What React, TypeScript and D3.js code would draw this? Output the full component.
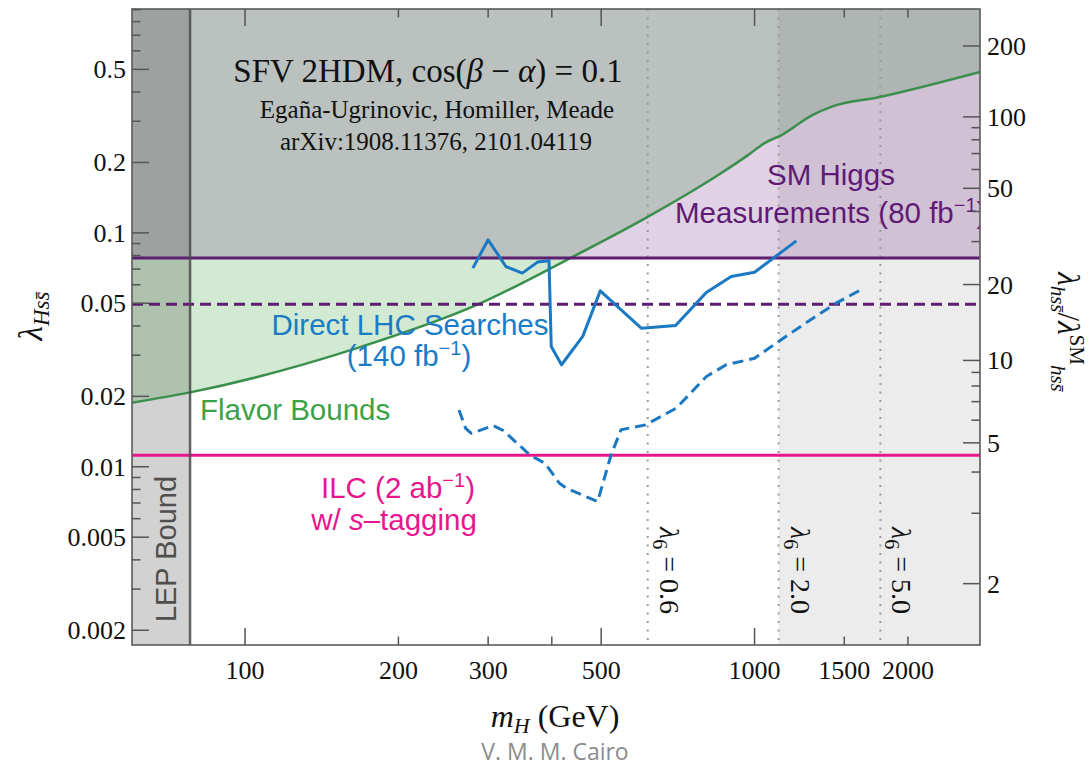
import React, { useEffect, useRef } from 'react';
import * as d3 from 'd3';

// axis ticks
const massLabels = [100, 200, 300, 500, 1000, 1500, 2000];
const massMajor = [100, 500, 1000];
const massMinor = [200, 300, 400, 1500, 2000];
const lambdaLabels = [0.002, 0.005, 0.01, 0.02, 0.05, 0.1, 0.2, 0.5];
const lambdaMinor = [0.003, 0.004, 0.006, 0.007, 0.008, 0.009, 0.03, 0.04, 0.06, 0.07, 0.08, 0.09, 0.3, 0.4, 0.6, 0.7, 0.8, 0.9];
const ratioLabels = [2, 5, 10, 20, 50, 100, 200];
const ratioMinor = [3, 4, 6, 7, 8, 9, 30, 40, 60, 70, 80, 90];

// flavor bound (green)
const flavorMass = [60, 78, 167, 288, 436, 617, 853, 971, 1046, 1130, 1298, 1410, 1760, 2770];
const flavorLambda = [0.0188, 0.0208, 0.0323, 0.0497, 0.0782, 0.117, 0.178, 0.215, 0.242, 0.262, 0.319, 0.345, 0.381, 0.488];

// direct LHC searches, 140 fb-1 (solid blue)
const lhcMass = [280, 300, 325, 350, 375, 395, 399, 418, 460, 498, 600, 700, 804, 900, 1000, 1208];
const lhcLambda = [0.0707, 0.0934, 0.0718, 0.0673, 0.075, 0.076, 0.0327, 0.0273, 0.0361, 0.0565, 0.0391, 0.0402, 0.0556, 0.0651, 0.0679, 0.0924];

// projection (dashed blue)
const projMass = [263, 271, 278, 286, 307, 321, 363, 388, 414, 427, 492, 523, 547, 611, 702, 804, 880, 1000, 1105, 1302, 1449, 1616];
const projLambda = [0.0175, 0.0146, 0.0139, 0.0142, 0.015, 0.0143, 0.0112, 0.01035, 0.0085, 0.0081, 0.0071, 0.01125, 0.0144, 0.0151, 0.0178, 0.0243, 0.0273, 0.0291, 0.0339, 0.0432, 0.0502, 0.0571];

const lepMass = 78;
const higgsLambda = 0.078;
const higgsDashLambda = 0.0495;
const ilcLambda = 0.0112;
const lambda6Labels = ['0.6', '2.0', '5.0'];
const lambda6Mass = [617, 1115, 1766];
const ratioSlope = 316; // lambda_hss/lambda_SM = 1 + 316 * lambda_Hss

const serif = '"Liberation Serif", "Times New Roman", serif';
const sans = '"Liberation Sans", Arial, sans-serif';

type Part = { t: string; shift?: number; size?: number; italic?: boolean };

function rich(sel: any, parts: Part[]) {
  let cur = 0;
  parts.forEach(p => {
    const s = p.shift || 0;
    const ts = sel.append('tspan').attr('dy', s - cur).text(p.t);
    if (p.size) ts.attr('font-size', p.size);
    if (p.italic) ts.attr('font-style', 'italic');
    cur = s;
  });
  return sel;
}

export default function App() {
  const ref = useRef<SVGSVGElement>(null);

  useEffect(() => {
    const svg = d3.select(ref.current);
    svg.selectAll('*').remove();

    const left = 132, right = 980, top = 9, bottom = 645;
    const x = d3.scaleLog().domain([60, 2770]).range([left, right]);
    const y = d3.scaleLog().domain([0.00173, 0.906]).range([bottom, top]);
    const yr = (r: number) => y((r - 1) / ratioSlope);

    svg.append('defs').append('clipPath').attr('id', 'plotClip')
      .append('rect').attr('x', left).attr('y', top).attr('width', right - left).attr('height', bottom - top);

    const plot = svg.append('g').attr('clip-path', 'url(#plotClip)');
    plot.append('rect').attr('x', left).attr('y', top).attr('width', right - left).attr('height', bottom - top).attr('fill', '#fff');

    // shaded bands
    plot.append('rect')
      .attr('x', x(lambda6Mass[1])).attr('y', top)
      .attr('width', right - x(lambda6Mass[1])).attr('height', bottom - top)
      .attr('fill', '#5f5f5f').attr('fill-opacity', 0.12);

    const flavor = flavorMass.map((m, i) => ({ m, l: flavorLambda[i] }));
    const area = d3.area<{ m: number; l: number }>()
      .x(d => x(d.m)).y0(top).y1(d => y(d.l)).curve(d3.curveMonotoneX);
    plot.append('path').datum(flavor).attr('d', area)
      .attr('fill', 'rgb(44,160,44)').attr('fill-opacity', 0.22);

    plot.append('rect')
      .attr('x', left).attr('y', top).attr('width', right - left).attr('height', y(higgsLambda) - top)
      .attr('fill', 'rgb(100,30,120)').attr('fill-opacity', 0.2);

    plot.append('rect')
      .attr('x', left).attr('y', top).attr('width', x(lepMass) - left).attr('height', bottom - top)
      .attr('fill', '#3e3e3e').attr('fill-opacity', 0.23);

    // lambda_6 dotted lines
    lambda6Mass.forEach((m, i) => {
      plot.append('line')
        .attr('x1', x(m)).attr('x2', x(m)).attr('y1', top).attr('y2', bottom)
        .attr('stroke', '#9a9a9a').attr('stroke-width', 2).attr('stroke-dasharray', '2 6.5');
      const t = plot.append('text')
        .attr('transform', `translate(${x(m) + 12},527) rotate(90)`)
        .attr('font-family', serif).attr('font-size', 28).attr('fill', '#111');
      rich(t, [
        { t: 'λ', italic: true },
        { t: '6', shift: 7, size: 20 },
        { t: ' = ' + lambda6Labels[i] },
      ]);
    });

    // curves
    const line = d3.line<{ m: number; l: number }>().x(d => x(d.m)).y(d => y(d.l));
    plot.append('path').datum(flavor)
      .attr('d', line.curve(d3.curveMonotoneX))
      .attr('fill', 'none').attr('stroke', '#3b8f4c').attr('stroke-width', 2.5);
    line.curve(d3.curveLinear);

    const hline = (v: number, color: string, dash?: string) => {
      const l = plot.append('line')
        .attr('x1', left).attr('x2', right).attr('y1', y(v)).attr('y2', y(v))
        .attr('stroke', color).attr('stroke-width', 3);
      if (dash) l.attr('stroke-dasharray', dash);
    };
    hline(higgsLambda, '#5d1d70');
    hline(higgsDashLambda, '#5d1d70', '11 6');
    hline(ilcLambda, '#e8158b');

    plot.append('path').datum(lhcMass.map((m, i) => ({ m, l: lhcLambda[i] })))
      .attr('d', line).attr('fill', 'none').attr('stroke', '#1a79c2').attr('stroke-width', 3)
      .attr('stroke-linejoin', 'round');
    plot.append('path').datum(projMass.map((m, i) => ({ m, l: projLambda[i] })))
      .attr('d', line).attr('fill', 'none').attr('stroke', '#1a79c2').attr('stroke-width', 3)
      .attr('stroke-dasharray', '11 6');

    plot.append('line')
      .attr('x1', x(lepMass)).attr('x2', x(lepMass)).attr('y1', top).attr('y2', bottom)
      .attr('stroke', '#4a4a4a').attr('stroke-width', 2.5).attr('stroke-opacity', 0.85);

    // labels inside plot
    const label = (tx: number, ty: number, color: string, size: number, anchor: string, parts: Part[], family = sans) => {
      const t = plot.append('text').attr('x', tx).attr('y', ty)
        .attr('font-family', family).attr('font-size', size).attr('fill', color).attr('text-anchor', anchor);
      return rich(t, parts);
    };

    label(428, 82, '#111', 33, 'middle', [
      { t: 'SFV 2HDM, cos(' }, { t: 'β', italic: true }, { t: ' − ' }, { t: 'α', italic: true }, { t: ') = 0.1' },
    ], serif);
    label(437, 118, '#111', 25, 'middle', [{ t: 'Egaña-Ugrinovic, Homiller, Meade' }], serif);
    label(436, 150, '#111', 25, 'middle', [{ t: 'arXiv:1908.11376, 2101.04119' }], serif);

    label(831, 185, '#5f1a75', 29.5, 'middle', [{ t: 'SM Higgs' }]);
    label(675, 223, '#5f1a75', 29.5, 'start', [
      { t: 'Measurements (80 fb' }, { t: '−1', shift: -11, size: 20 }, { t: ')' },
    ]);

    label(410, 335, '#1a7bc6', 29.5, 'middle', [{ t: 'Direct LHC Searches' }]);
    label(409, 366, '#1a7bc6', 29.5, 'middle', [
      { t: '(140 fb' }, { t: '−1', shift: -11, size: 20 }, { t: ')' },
    ]);
    label(200, 420, '#3aa349', 29.5, 'start', [{ t: 'Flavor Bounds' }]);
    label(398, 498, '#e8168c', 29.5, 'middle', [
      { t: 'ILC (2 ab' }, { t: '−1', shift: -11, size: 20 }, { t: ')' },
    ]);
    label(394, 530, '#e8168c', 29.5, 'middle', [
      { t: 'w/ ' }, { t: 's', italic: true }, { t: '–tagging' },
    ]);

    plot.append('text')
      .attr('transform', `translate(176,549) rotate(-90)`)
      .attr('text-anchor', 'middle').attr('font-family', sans).attr('font-size', 29)
      .attr('fill', '#4f4f4f').text('LEP Bound');

    // frame
    svg.append('rect').attr('x', left).attr('y', top).attr('width', right - left).attr('height', bottom - top)
      .attr('fill', 'none').attr('stroke', '#5a5a5a').attr('stroke-width', 1.6);

    const axes = svg.append('g').attr('stroke', '#555').attr('stroke-width', 1.5);
    const major = 17, minor = 8.5;

    // x ticks bottom and top (inward)
    [...massMajor.map(v => [v, major]), ...massMinor.map(v => [v, minor])].forEach(([v, len]) => {
      axes.append('line').attr('x1', x(v)).attr('x2', x(v)).attr('y1', bottom).attr('y2', bottom - len);
      axes.append('line').attr('x1', x(v)).attr('x2', x(v)).attr('y1', top).attr('y2', top + len);
    });
    // left y ticks
    [...lambdaLabels.map(v => [v, major]), ...lambdaMinor.map(v => [v, minor])].forEach(([v, len]) => {
      if (y(v) < top || y(v) > bottom) return;
      axes.append('line').attr('x1', left).attr('x2', left + len).attr('y1', y(v)).attr('y2', y(v));
    });
    // right y ticks
    [...ratioLabels.map(v => [v, major]), ...ratioMinor.map(v => [v, minor])].forEach(([v, len]) => {
      axes.append('line').attr('x1', right).attr('x2', right - len).attr('y1', yr(v)).attr('y2', yr(v));
    });

    const tickText = svg.append('g').attr('font-family', serif).attr('font-size', 26).attr('fill', '#111');
    massLabels.forEach(v => {
      tickText.append('text').attr('x', x(v)).attr('y', 679).attr('text-anchor', 'middle').text(String(v));
    });
    lambdaLabels.forEach(v => {
      tickText.append('text').attr('x', 126).attr('y', y(v) + 9).attr('text-anchor', 'end').text(String(v));
    });
    ratioLabels.forEach(v => {
      tickText.append('text').attr('x', 987).attr('y', yr(v) + 9).attr('text-anchor', 'start').text(String(v));
    });

    // axis titles
    const xt = svg.append('text').attr('x', 555).attr('y', 727).attr('text-anchor', 'middle')
      .attr('font-family', serif).attr('font-size', 32).attr('fill', '#111');
    rich(xt, [{ t: 'm', italic: true }, { t: 'H', italic: true, shift: 6, size: 22 }, { t: ' (GeV)' }]);

    const yt = svg.append('text').attr('transform', 'translate(42,316) rotate(-90)')
      .attr('text-anchor', 'middle').attr('font-family', serif).attr('font-size', 33).attr('fill', '#111');
    rich(yt, [{ t: 'λ', italic: true }, { t: 'Hss\u0304', italic: true, shift: 7, size: 23 }]);

    const rt = svg.append('text').attr('transform', 'translate(1058,332) rotate(90)')
      .attr('text-anchor', 'middle').attr('font-family', serif).attr('font-size', 31).attr('fill', '#111');
    rich(rt, [
      { t: 'λ', italic: true }, { t: 'hss\u0304', italic: true, shift: 7, size: 21 },
      { t: '/' }, { t: 'λ', italic: true }, { t: 'SM', shift: -12, size: 21 },
      { t: 'hss\u0304', italic: true, shift: 7, size: 21 },
    ]);

    svg.append('text').attr('x', 555).attr('y', 760).attr('text-anchor', 'middle')
      .attr('font-family', '"Open Sans", sans-serif').attr('font-size', 23).attr('fill', '#8c8c8c')
      .text('V. M. M. Cairo');
  }, []);

  return (
    <svg ref={ref} width={1090} height={766}
      style={{ position: 'absolute', left: 0, top: 0, background: '#fff' }} />
  );
}
